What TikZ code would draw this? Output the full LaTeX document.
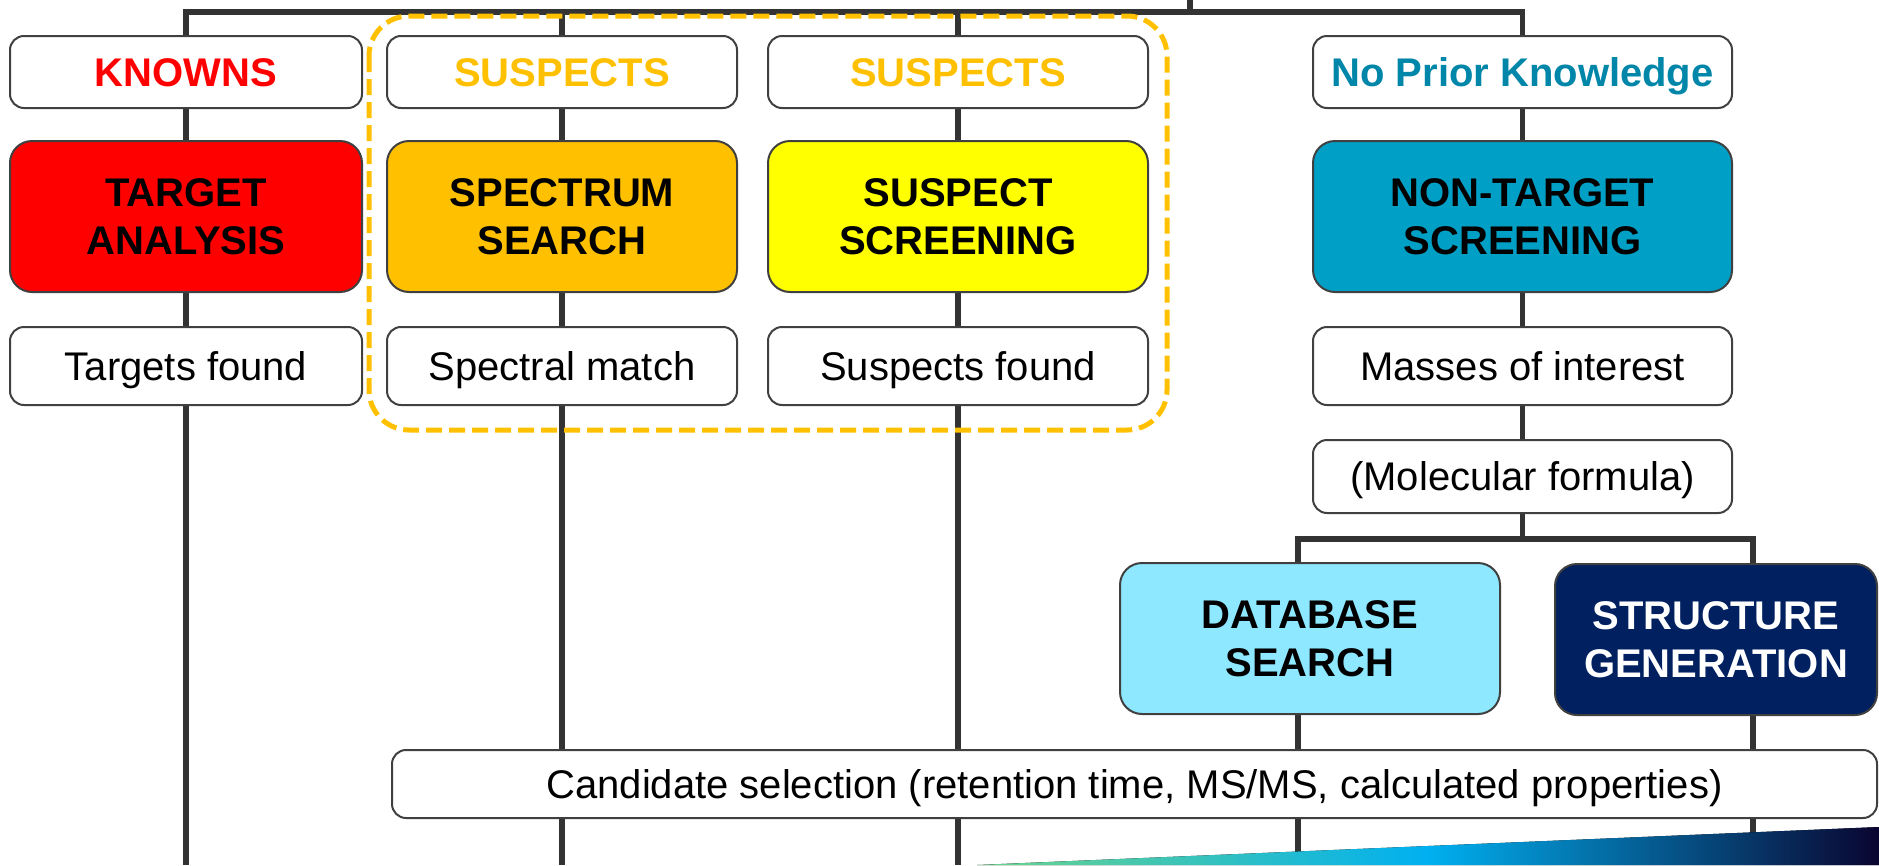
\documentclass[tikz,border=0pt]{standalone}
\usepackage{fontspec}
\setmainfont{Liberation Sans}
\usetikzlibrary{backgrounds}
\definecolor{lineg}{HTML}{333333}
\definecolor{boxg}{HTML}{404040}
\definecolor{cRed}{HTML}{FF0000}
\definecolor{cGold}{HTML}{FFC000}
\definecolor{cYel}{HTML}{FFFF00}
\definecolor{cTeal}{HTML}{00A0C6}
\definecolor{cTealT}{HTML}{0086A8}
\definecolor{cSky}{HTML}{8EE8FF}
\definecolor{cNavy}{HTML}{002060}
\definecolor{gL}{HTML}{6CD48A}
\definecolor{gM}{HTML}{00B0F0}
\definecolor{gR}{HTML}{0A0530}
\begin{document}
\begin{tikzpicture}[x=1pt,y=-1pt,
  box/.style={draw=boxg, line width=2pt, rounded corners=14pt, fill=white, inner sep=0pt, align=center, font=\fontsize{40}{48}\selectfont},
  oneline/.style={text height=28.6pt, text depth=0pt},
  labelbox/.style={box, oneline, font=\bfseries\fontsize{40}{48}\selectfont},
  bigbox/.style={box, rounded corners=22pt, font=\bfseries\fontsize{40}{48}\selectfont},
  conn/.style={draw=lineg, line width=5.5pt},
  groupframe/.style={draw=cGold, line width=5pt, rounded corners=40pt, dash pattern=on 16pt off 7pt}
]
\useasboundingbox (0,0) rectangle (1879,865);

% row 1
\node[labelbox, text=cRed, minimum width=352pt, minimum height=72pt] (kn) at (186,72) {KNOWNS};
\node[labelbox, text=cGold, minimum width=350pt, minimum height=72pt] (s1) at (562,72) {SUSPECTS};
\node[labelbox, text=cGold, minimum width=380pt, minimum height=72pt] (s2) at (958,72) {SUSPECTS};
\node[labelbox, text=cTealT, minimum width=419pt, minimum height=72pt] (npk) at (1522.5,72) {No Prior Knowledge};
% row 2
\node[bigbox, fill=cRed, minimum width=352pt, minimum height=151pt] (ta) at (186,216.5) {TARGET\\ANALYSIS};
\node[bigbox, fill=cGold, minimum width=350pt, minimum height=151pt] (sps) at (562,216.5) {SPECTRUM\\SEARCH};
\node[bigbox, fill=cYel, minimum width=380pt, minimum height=151pt] (sus) at (958,216.5) {SUSPECT\\SCREENING};
\node[bigbox, fill=cTeal, minimum width=419pt, minimum height=151pt] (nts) at (1522.5,216.5) {NON-TARGET\\SCREENING};
% row 3
\node[box, oneline, minimum width=352pt, minimum height=78pt] (tf) at (186,366) {Targets found};
\node[box, oneline, minimum width=350pt, minimum height=78pt] (sm) at (562,366) {Spectral match};
\node[box, oneline, minimum width=380pt, minimum height=78pt] (sf) at (958,366) {Suspects found};
\node[box, oneline, minimum width=419pt, minimum height=78pt] (mi) at (1522.5,366) {Masses of interest};
\node[box, oneline, minimum width=419pt, minimum height=73pt] (mf) at (1522.5,476.5) {(Molecular formula)};
% lower
\node[bigbox, fill=cSky, minimum width=380pt, minimum height=151pt] (db) at (1310,638.5) {DATABASE\\SEARCH};
\node[bigbox, fill=cNavy, text=white, minimum width=322pt, minimum height=151pt] (sg) at (1716,639.5) {STRUCTURE\\GENERATION};
\node[box, oneline, minimum width=1485pt, minimum height=68pt] (cand) at (1134.5,784) {Candidate selection (retention time, MS/MS, calculated properties)};

% group frame
\draw[groupframe] (369,16) rectangle (1167,430);

% helper coordinates
\coordinate (ytop) at (0,12);
\coordinate (stub) at (1190,0);
\coordinate (ybr) at (0,539);
\coordinate (xdb) at (1298,0);
\coordinate (xsg) at (1753,0);
\coordinate (b1) at (186,865);
\coordinate (b2) at (562,865);
\coordinate (b3) at (958,865);
\coordinate (b4) at (1298,865);
\coordinate (b5) at (1753,865);

\begin{scope}[on background layer]
\draw[conn, line join=miter] (kn.north) -- (kn.north |- ytop) -| (npk.north);
\draw[conn] (s1.north) -- (s1.north |- ytop);
\draw[conn] (s2.north) -- (s2.north |- ytop);
\draw[conn] (stub) -- (stub |- ytop);
% column 1
\draw[conn] (kn.south) -- (ta.north);
\draw[conn] (ta.south) -- (tf.north);
\draw[conn] (tf.south) -- (b1);
% column 2
\draw[conn] (s1.south) -- (sps.north);
\draw[conn] (sps.south) -- (sm.north);
\draw[conn] (sm.south) -- (sm.south |- cand.north);
\draw[conn] (b2 |- cand.south) -- (b2);
% column 3
\draw[conn] (s2.south) -- (sus.north);
\draw[conn] (sus.south) -- (sf.north);
\draw[conn] (sf.south) -- (sf.south |- cand.north);
\draw[conn] (b3 |- cand.south) -- (b3);
% column 4
\draw[conn] (npk.south) -- (nts.north);
\draw[conn] (nts.south) -- (mi.north);
\draw[conn] (mi.south) -- (mf.north);
\draw[conn, line join=miter] (mf.south) -- (mf.south |- ybr);
\draw[conn, line join=miter] (db.north -| xdb) -- (xdb |- ybr) -- (xsg |- ybr) -- (sg.north -| xsg);
\draw[conn] (db.south -| xdb) -- (cand.north -| xdb);
\draw[conn] (sg.south -| xsg) -- (cand.north -| xsg);
\draw[conn] (cand.south -| xdb) -- (b4);
\draw[conn] (cand.south -| xsg) -- (b5);
\end{scope}

% gradient wedge
\fill[left color=gL, right color=gR, middle color=gM] (977,865) -- (1879,827) -- (1879,865) -- cycle;
\end{tikzpicture}
\end{document}
